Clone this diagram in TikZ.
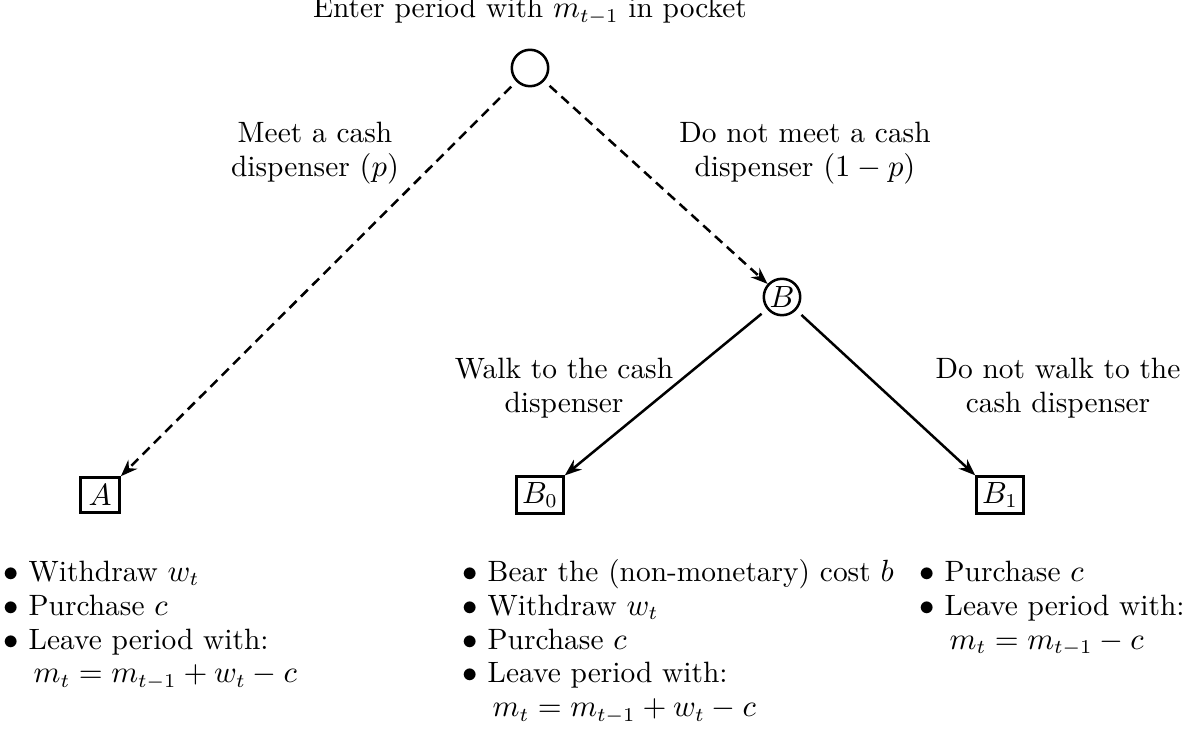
\documentclass[tikz,border=0pt]{standalone}
\usetikzlibrary{arrows.meta}
\begin{document}
\begin{tikzpicture}[x=0.357pt,y=-0.357pt,
  every node/.style={font=\fontsize{10.5}{12.1}\selectfont},
  chance/.style={circle,draw,line width=0.9pt,minimum size=13pt,inner sep=0pt},
  term/.style={rectangle,draw,line width=0.9pt,inner sep=2pt,minimum height=12.5pt,minimum width=14pt},
  conn/.style={line width=0.9pt,-{Stealth[length=6pt,width=4.5pt]},shorten <=2.5pt},
  dconn/.style={conn,dash pattern=on 3.5pt off 2.2pt},
  lbl/.style={align=center,inner sep=0pt},
  lst/.style={anchor=north west,inner sep=0pt}]
\useasboundingbox (0,0) rectangle (1189,730);
\node[anchor=base] (title) at (530,18) {Enter period with $m_{t-1}$ in pocket};
\node[chance] (root) at (530,68) {};
\node[chance] (B) at (782,297) {$B$};
\node[term] (A) at (100,495) {$A$};
\node[term] (B0) at (540,495) {$B_0$};
\node[term] (B1) at (1000,495) {$B_1$};
\draw[dconn] (root) -- (A.north east);
\draw[dconn] (root) -- (B);
\draw[conn] (B) -- (B0.north east);
\draw[conn] (B) -- (B1.north west);
\node[lbl] (lm) at (315,153) {Meet a cash\\dispenser $(p)$};
\node[lbl] (ln) at (805,153) {Do not meet a cash\\dispenser $(1-p)$};
\node[lbl] (lw) at (564,388) {Walk to the cash\\dispenser};
\node[lbl] (lnw) at (1058,388) {Do not walk to the\\cash dispenser};
\node[lst] (la) at (3,557) {\begin{tabular}{@{}l@{\ }l@{}}
$\bullet$ & Withdraw $w_t$\\
$\bullet$ & Purchase $c$\\
$\bullet$ & Leave period with:\\
 & \,$m_t=m_{t-1}+w_t-c$
\end{tabular}};
\node[lst] (lb0) at (462,557) {\begin{tabular}{@{}l@{\ }l@{}}
$\bullet$ & Bear the (non-monetary) cost $b$\\
$\bullet$ & Withdraw $w_t$\\
$\bullet$ & Purchase $c$\\
$\bullet$ & Leave period with:\\
 & \,$m_t=m_{t-1}+w_t-c$
\end{tabular}};
\node[lst] (lb1) at (919,557) {\begin{tabular}{@{}l@{\ }l@{}}
$\bullet$ & Purchase $c$\\
$\bullet$ & Leave period with:\\
 & \,$m_t=m_{t-1}-c$
\end{tabular}};
\end{tikzpicture}
\end{document}
